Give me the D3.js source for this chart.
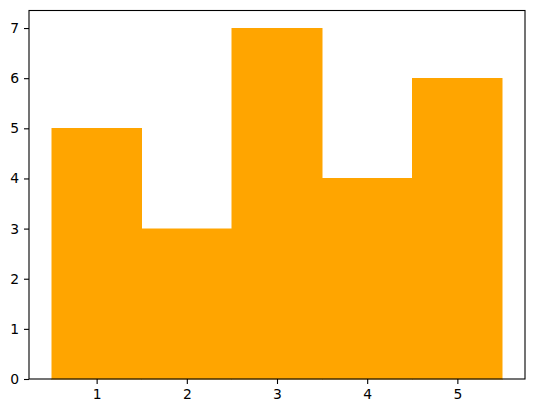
<!DOCTYPE html>
<html>
<head>
<meta charset="utf-8">
<script src="https://cdn.jsdelivr.net/npm/d3@7"></script>
<style>
  body { margin: 0; background: #fff; }
  text { font-family: "DejaVu Sans", sans-serif; }
</style>
</head>
<body>
<script>
// bar data
var categories = [1, 2, 3, 4, 5];
var values = [5, 3, 7, 4, 6];
var yTicks = [0, 1, 2, 3, 4, 5, 6, 7];

var width = 534, height = 413;
var margin = {left: 29, right: 9, top: 10.5, bottom: 34};

var svg = d3.select('body')
  .append('svg')
  .attr('width', width)
  .attr('height', height);

var x = d3.scaleLinear()
  .domain([0.25, 5.75])
  .range([margin.left, width - margin.right]);

var y = d3.scaleLinear()
  .domain([0, 7.35])
  .range([height - margin.bottom, margin.top]);

svg.selectAll('rect.bar')
  .data(values)
  .enter()
  .append('rect')
  .attr('class', 'bar')
  .attr('x', function(d, i) { return x(categories[i] - 0.5); })
  .attr('width', function(d, i) { return x(categories[i] + 0.5) - x(categories[i] - 0.5); })
  .attr('y', function(d) { return y(d); })
  .attr('height', function(d) { return y(0) - y(d); })
  .attr('fill', 'orange')
  .attr('stroke', 'orange')
  .attr('stroke-width', 0.5)
  .attr('shape-rendering', 'crispEdges');

var xAxis = svg.append('g')
  .attr('transform', 'translate(0,' + y(0) + ')')
  .call(d3.axisBottom(x).tickValues(categories).tickFormat(d3.format('d'))
    .tickSize(5).tickPadding(5).tickSizeOuter(0));

var yAxis = svg.append('g')
  .attr('transform', 'translate(' + x(0.25) + ',0)')
  .call(d3.axisLeft(y).tickValues(yTicks).tickFormat(d3.format('d'))
    .tickSize(5).tickPadding(5).tickSizeOuter(0));

[xAxis, yAxis].forEach(function(g) {
  g.select('.domain').remove();
  g.attr('font-size', 13.9).attr('font-family', '"DejaVu Sans", sans-serif');
  g.selectAll('text').attr('fill', '#000');
  g.selectAll('line').attr('stroke', '#000').attr('stroke-width', 1.1);
});

// axes frame
svg.append('rect')
  .attr('x', x(0.25))
  .attr('y', y(7.35))
  .attr('width', x(5.75) - x(0.25))
  .attr('height', y(0) - y(7.35))
  .attr('fill', 'none')
  .attr('stroke', '#000')
  .attr('stroke-width', 1.1);
</script>
</body>
</html>
